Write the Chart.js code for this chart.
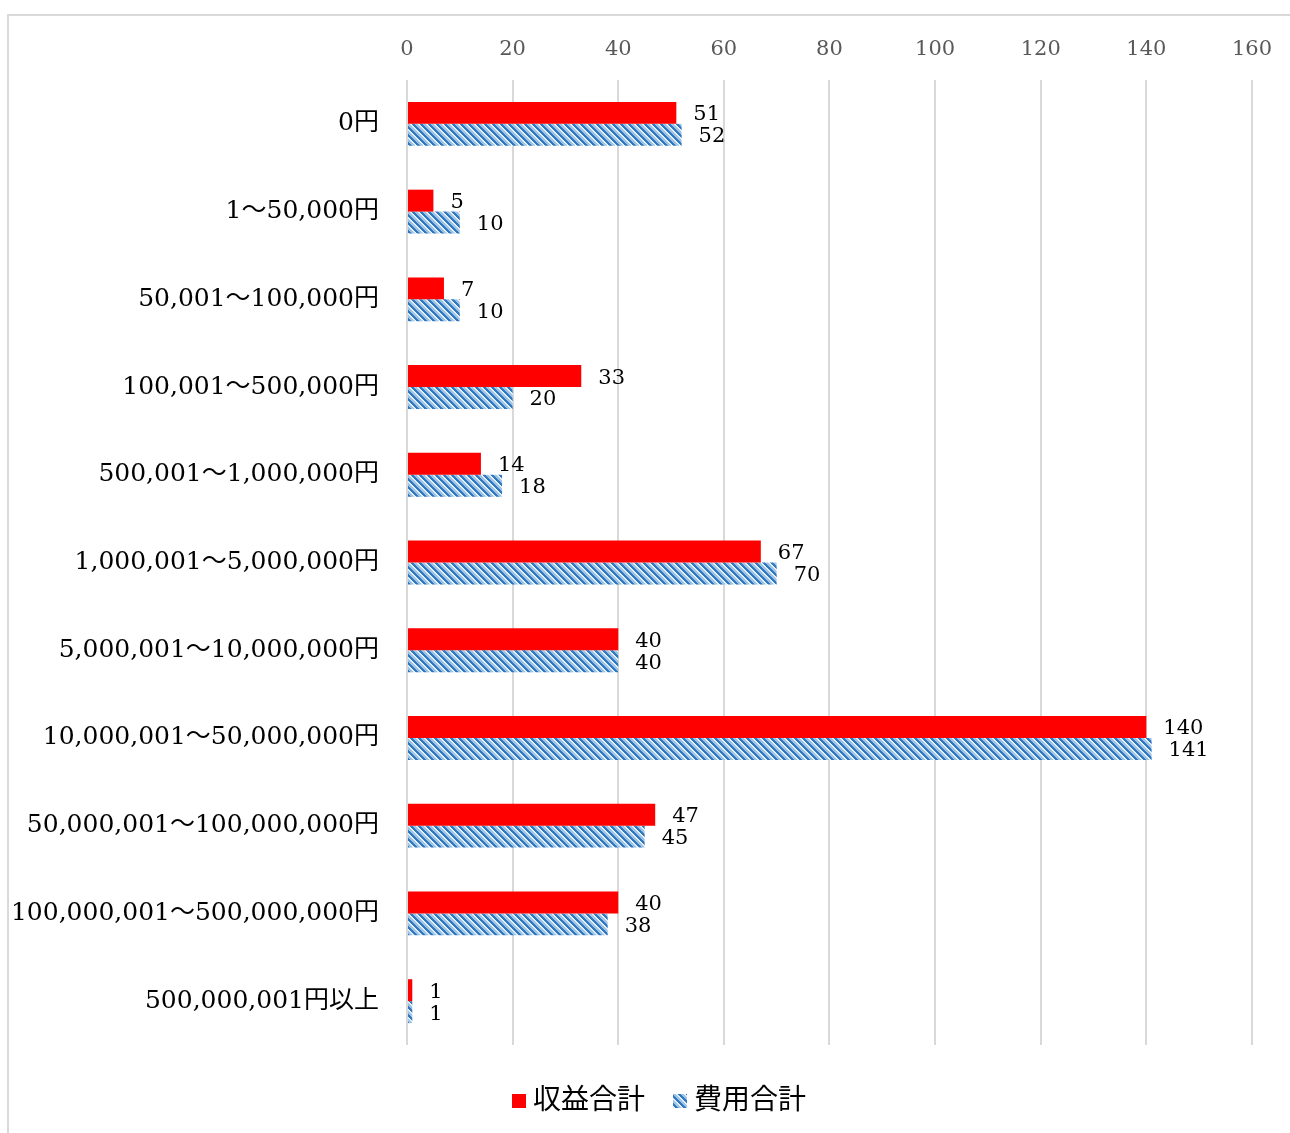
<!DOCTYPE html>
<html>
<head>
<meta charset="utf-8">
<script src="https://cdn.jsdelivr.net/npm/chart.js@4.4.1/dist/chart.umd.min.js"></script>
<style>
  html, body { margin: 0; padding: 0; background: #fff; overflow: hidden; }
  #frame {
    position: absolute; left: 7px; top: 14px;
    width: 1300px; height: 1200px;
    border: 2px solid #d9d9d9; box-sizing: border-box;
  }
  #wrap { position: absolute; left: 0; top: 0; width: 1290px; height: 1133px; }
</style>
</head>
<body>
<div id="frame"></div>
<div id="wrap"><canvas id="chart" width="1290" height="1133"></canvas></div>
<script>
// ── data ──
const categories = [
  "0円",
  "1～50,000円",
  "50,001～100,000円",
  "100,001～500,000円",
  "500,001～1,000,000円",
  "1,000,001～5,000,000円",
  "5,000,001～10,000,000円",
  "10,000,001～50,000,000円",
  "50,000,001～100,000,000円",
  "100,000,001～500,000,000円",
  "500,000,001円以上",
];
const revenueTotal = [51, 5, 7, 33, 14, 67, 40, 140, 47, 40, 1];
const expenseTotal = [52, 10, 10, 20, 18, 70, 40, 141, 45, 38, 1];
const seriesNames = ["収益合計", "費用合計"];
const xTicks = [0, 20, 40, 60, 80, 100, 120, 140, 160];

// ── styles ──
const FONT = "'DejaVu Serif', 'Noto Sans CJK JP', serif";
const RED = "#ff0000";

// diagonal hatch for the expense series
function makeHatch() {
  const c = document.createElement("canvas");
  c.width = 8; c.height = 8;
  const g = c.getContext("2d");
  for (let y = 0; y < 8; y++) {
    for (let x = 0; x < 8; x++) {
      const d = ((x - y) % 8 + 8) % 8;
      g.fillStyle = d < 3 ? "#3079c0" : (d < 6 ? "#9dc3e6" : "#e4eef9");
      g.fillRect(x, y, 1, 1);
    }
  }
  return g.createPattern(c, "repeat");
}
const hatch = makeHatch();

// value labels at the end of each bar
const valueLabels = {
  id: "valueLabels",
  afterDatasetsDraw(chart) {
    const ctx = chart.ctx;
    ctx.save();
    ctx.font = "21px " + FONT;
    ctx.fillStyle = "#000";
    ctx.textAlign = "left";
    ctx.textBaseline = "middle";
    chart.data.datasets.forEach((ds, i) => {
      chart.getDatasetMeta(i).data.forEach((el, j) => {
        ctx.fillText(String(ds.data[j]), el.x + 17, el.y + 2);
      });
    });
    ctx.restore();
  },
};

// legend drawn under the plot
const bottomLegend = {
  id: "bottomLegend",
  afterDraw(chart) {
    const ctx = chart.ctx;
    const fills = [RED, hatch];
    const cy = 1101;
    let x = 512;
    ctx.save();
    ctx.font = "28px " + FONT;
    ctx.textBaseline = "middle";
    ctx.textAlign = "left";
    seriesNames.forEach((name, i) => {
      ctx.fillStyle = fills[i];
      ctx.fillRect(x, cy - 7, 14, 14);
      ctx.fillStyle = "#000";
      ctx.fillText(name, x + 21, cy + 1);
      x += 21 + ctx.measureText(name).width + 28;
    });
    ctx.restore();
  },
};

new Chart(document.getElementById("chart"), {
  type: "bar",
  data: {
    labels: categories,
    datasets: [
      { label: seriesNames[0], data: revenueTotal, backgroundColor: RED },
      { label: seriesNames[1], data: expenseTotal, backgroundColor: hatch },
    ],
  },
  options: {
    indexAxis: "y",
    responsive: false,
    animation: false,
    events: [],
    categoryPercentage: 0.5,
    barPercentage: 1.0,
    layout: { padding: { left: 0, right: 38, top: 0, bottom: 88 } },
    plugins: { legend: { display: false }, tooltip: { enabled: false } },
    scales: {
      x: {
        position: "top",
        min: 0,
        max: 160,
        afterBuildTicks: (s) => { s.ticks = xTicks.map((v) => ({ value: v })); },
        afterFit: (s) => { s.height = 80; },
        grid: { color: "#d9d9d9", lineWidth: 2, drawTicks: false },
        border: { display: false },
        ticks: { color: "#595959", font: { family: FONT, size: 21 }, padding: 18 },
      },
      y: {
        afterFit: (s) => { s.width = 407; },
        grid: { display: false, drawTicks: false },
        border: { display: false },
        ticks: { color: "#000", font: { family: FONT, size: 25 }, padding: 28 },
      },
    },
  },
  plugins: [valueLabels, bottomLegend],
});
</script>
</body>
</html>
